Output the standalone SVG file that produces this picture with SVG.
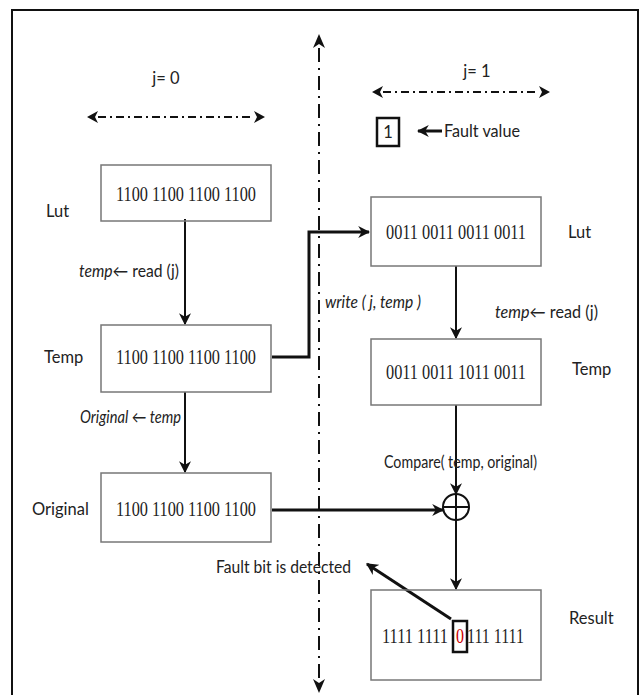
<svg xmlns="http://www.w3.org/2000/svg" width="643" height="695" viewBox="0 0 643 695">
<style>
.box{fill:none;stroke:#777;stroke-width:1.5}
.bin{font-family:"Liberation Serif",serif;font-size:21px;fill:#222}
.red{fill:#c00}
.lbl{font-family:Lato,"Liberation Sans",sans-serif;font-size:16.5px;fill:#222}
.it{font-style:italic}
.ln{stroke:#111;stroke-width:2;fill:none}
.thick{stroke:#111;stroke-width:3;fill:none}
.dd{stroke:#111;stroke-width:2;fill:none;stroke-dasharray:8 4 2 4}
.ax{stroke:#111;stroke-width:2;fill:none;stroke-dasharray:14 6 2 6}
</style>
<defs>
<marker id="ahb" viewBox="0 0 10 10" refX="9" refY="5" markerWidth="12" markerHeight="12" orient="auto-start-reverse" markerUnits="userSpaceOnUse">
<path d="M0,0 L10,5 L0,10 L3,5 Z" fill="#111"/>
</marker>
</defs>
<rect x="0" y="0" width="643" height="695" fill="#fff"/>
<rect x="12" y="10" width="626" height="690" fill="none" stroke="#111" stroke-width="2"/>

<g id="connectors">
<line class="ax" x1="319" y1="48" x2="319" y2="680"/>
<path d="M313,48 L319,34 L325,48 L319,44 Z" fill="#111"/>
<path d="M313,679 L319,693 L325,679 L319,683 Z" fill="#111"/>
<line class="dd" x1="98" y1="117" x2="254" y2="117"/>
<path d="M98,111 L87,117 L98,123 L95,117 Z" fill="#111"/>
<path d="M254,111 L265,117 L254,123 L257,117 Z" fill="#111"/>
<line class="dd" x1="383" y1="92" x2="539" y2="92"/>
<path d="M383,86 L372,92 L383,98 L380,92 Z" fill="#111"/>
<path d="M539,86 L550,92 L539,98 L542,92 Z" fill="#111"/>
<line class="thick" x1="442" y1="131" x2="418" y2="131" marker-end="url(#ahb)"/>
<line class="ln" x1="185" y1="219" x2="185" y2="324" marker-end="url(#ahb)"/>
<polyline class="thick" points="272,357 309,357 309,232 369,232" marker-end="url(#ahb)"/>
<line class="ln" x1="456" y1="266" x2="456" y2="338" marker-end="url(#ahb)"/>
<line class="ln" x1="185" y1="392" x2="185" y2="472" marker-end="url(#ahb)"/>
<line class="ln" x1="456" y1="405" x2="456" y2="494" marker-end="url(#ahb)"/>
<line class="thick" x1="272" y1="510" x2="443" y2="510" marker-end="url(#ahb)"/>
<line class="ln" x1="456" y1="520" x2="456" y2="589" marker-end="url(#ahb)"/>
<line class="thick" x1="451" y1="619" x2="367" y2="564" marker-end="url(#ahb)"/>
</g>

<g id="lbl-j0"><text class="lbl" x="166" y="84" text-anchor="middle">j= 0</text></g>
<g id="lbl-j1"><text class="lbl" x="477" y="77" text-anchor="middle">j= 1</text></g>
<g id="fault-value">
<rect x="377" y="118" width="22" height="28" fill="#fff" stroke="#111" stroke-width="2.5"/>
<text class="lbl" x="388" y="138" text-anchor="middle">1</text>
<text class="lbl" x="444" y="137" textLength="76" lengthAdjust="spacingAndGlyphs">Fault value</text>
</g>

<g id="lut0">
<rect class="box" x="101" y="165" width="170" height="56"/>
<text class="bin" x="116" y="201" textLength="140" lengthAdjust="spacingAndGlyphs">1100 1100 1100 1100</text>
<text class="lbl" x="46" y="217">Lut</text>
</g>
<g id="lbl-read0"><text class="lbl" x="79" y="277" textLength="100" lengthAdjust="spacingAndGlyphs"><tspan class="it">temp</tspan>← read (j)</text></g>
<g id="temp0">
<rect class="box" x="101" y="325" width="170" height="67"/>
<text class="bin" x="116" y="364" textLength="140" lengthAdjust="spacingAndGlyphs">1100 1100 1100 1100</text>
<text class="lbl" x="44" y="363">Temp</text>
</g>
<g id="lbl-orig"><text class="lbl it" x="80" y="423" textLength="101" lengthAdjust="spacingAndGlyphs">Original ← temp</text></g>
<g id="original">
<rect class="box" x="101" y="473" width="170" height="69"/>
<text class="bin" x="116" y="516" textLength="140" lengthAdjust="spacingAndGlyphs">1100 1100 1100 1100</text>
<text class="lbl" x="32" y="515">Original</text>
</g>
<g id="lbl-write"><text class="lbl it" x="325" y="308" textLength="96" lengthAdjust="spacingAndGlyphs">write ( j, temp )</text></g>
<g id="lut1">
<rect class="box" x="371" y="197" width="170" height="69"/>
<text class="bin" x="386" y="239" textLength="140" lengthAdjust="spacingAndGlyphs">0011 0011 0011 0011</text>
<text class="lbl" x="568" y="238">Lut</text>
</g>
<g id="lbl-read1"><text class="lbl" x="495" y="318" textLength="103" lengthAdjust="spacingAndGlyphs"><tspan class="it">temp</tspan>← read (j)</text></g>
<g id="temp1">
<rect class="box" x="371" y="339" width="170" height="66"/>
<text class="bin" x="386" y="379" textLength="140" lengthAdjust="spacingAndGlyphs">0011 0011 1011 0011</text>
<text class="lbl" x="572" y="375">Temp</text>
</g>
<g id="lbl-compare"><text class="lbl" x="384" y="468" textLength="153" lengthAdjust="spacingAndGlyphs">Compare( temp, original)</text></g>
<g id="xor">
<circle cx="456" cy="507" r="13" fill="none" stroke="#111" stroke-width="2"/>
<line class="ln" x1="443" y1="507" x2="469" y2="507"/>
<line class="ln" x1="456" y1="494" x2="456" y2="520"/>
</g>
<g id="lbl-fault"><text class="lbl" x="216" y="573" textLength="135" lengthAdjust="spacingAndGlyphs">Fault bit is detected</text></g>
<g id="result">
<rect class="box" x="371" y="590" width="170" height="90"/>
<text class="bin" x="382" y="643" textLength="66" lengthAdjust="spacingAndGlyphs">1111 1111</text>
<text class="bin red" x="456" y="643" textLength="8" lengthAdjust="spacingAndGlyphs">0</text>
<text class="bin" x="467" y="643" textLength="57" lengthAdjust="spacingAndGlyphs">111 1111</text>
<rect x="453" y="621" width="14" height="31" fill="none" stroke="#111" stroke-width="2.5"/>
<text class="lbl" x="569" y="624">Result</text>
</g>
</svg>
